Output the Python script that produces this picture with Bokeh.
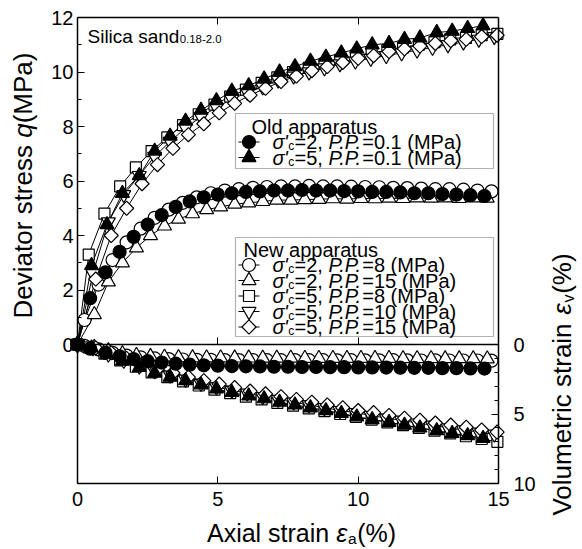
from math import pi
from bokeh.plotting import figure
from bokeh.models import Range1d, LinearAxis, FixedTicker, Label, BoxAnnotation, Grid
from bokeh.embed import file_html
from bokeh.resources import INLINE

# ---------------- data ----------------
# axial strain (%) and deviator stress q (MPa), volumetric strain (%)
# Old apparatus, sigma'c = 2, P.P. = 0.1
x_old2 = [0, 0.45, 1.0, 1.5, 2.0, 2.5, 3.0, 3.5, 4.0, 4.5, 5.0, 5.5, 6.0, 6.5, 7.0, 7.5,
          8.0, 8.5, 9.0, 9.5, 10.0, 10.5, 11.0, 11.5, 12.0, 12.5, 13.0, 13.5, 14.0, 14.5]
q_old2 = [0, 1.7, 2.65, 3.4, 3.95, 4.4, 4.75, 5.05, 5.25, 5.4, 5.5, 5.55, 5.6, 5.62, 5.65, 5.65,
          5.67, 5.65, 5.65, 5.63, 5.62, 5.6, 5.6, 5.58, 5.55, 5.55, 5.52, 5.5, 5.48, 5.45]
ev_old2 = [0, 0.3, 0.6, 0.85, 1.05, 1.2, 1.3, 1.38, 1.45, 1.5, 1.52, 1.55, 1.57, 1.58, 1.6, 1.6,
           1.62, 1.62, 1.63, 1.63, 1.65, 1.65, 1.66, 1.67, 1.68, 1.68, 1.7, 1.7, 1.72, 1.73]

# Old apparatus, sigma'c = 5, P.P. = 0.1
x_old5 = [0, 0.5, 1.05, 1.6, 2.2, 2.75, 3.3, 3.85, 4.4, 4.95, 5.5, 6.1, 6.65, 7.2, 7.75,
          8.3, 8.85, 9.4, 9.95, 10.5, 11.1, 11.65, 12.2, 12.8, 13.35, 13.9, 14.45]
q_old5 = [0, 2.9, 4.4, 5.55, 6.2, 7.1, 7.65, 8.2, 8.6, 8.95, 9.3, 9.5, 9.75, 10.0, 10.2,
          10.4, 10.55, 10.7, 10.85, 11.0, 11.05, 11.2, 11.25, 11.45, 11.5, 11.6, 11.7]
ev_old5 = [0, 0.25, 0.7, 1.2, 1.65, 2.05, 2.35, 2.6, 2.9, 3.2, 3.45, 3.7, 3.9, 4.15, 4.35,
           4.55, 4.75, 4.95, 5.2, 5.4, 5.6, 5.8, 6.0, 6.2, 6.4, 6.55, 6.75]

# New apparatus, sigma'c = 2, P.P. = 8
x_new2_8 = [0, 0.25, 0.75, 1.25, 1.75, 2.25, 2.75, 3.25, 3.75, 4.25, 4.75, 5.25, 5.75, 6.25, 6.75,
            7.25, 7.75, 8.25, 8.75, 9.25, 9.75, 10.25, 10.75, 11.25, 11.75, 12.25, 12.75, 13.25,
            13.75, 14.25, 14.75]
q_new2_8 = [0, 0.9, 2.2, 3.1, 3.75, 4.25, 4.65, 4.95, 5.2, 5.4, 5.55, 5.65, 5.7, 5.75, 5.78,
            5.8, 5.8, 5.82, 5.8, 5.8, 5.79, 5.78, 5.77, 5.75, 5.74, 5.72, 5.7, 5.7, 5.68, 5.65, 5.62]
ev_new2_8 = [0, 0.1, 0.35, 0.6, 0.8, 0.92, 1.0, 1.05, 1.08, 1.1, 1.1, 1.12, 1.12, 1.12, 1.13,
             1.13, 1.12, 1.13, 1.13, 1.14, 1.13, 1.14, 1.14, 1.13, 1.14, 1.15, 1.14, 1.15, 1.15,
             1.15, 1.16]

# New apparatus, sigma'c = 2, P.P. = 15
x_new2_15 = [0, 0.6, 1.1, 1.6, 2.1, 2.6, 3.1, 3.6, 4.1, 4.6, 5.1, 5.6, 6.1, 6.6, 7.1, 7.6,
             8.1, 8.6, 9.1, 9.6, 10.1, 10.6, 11.1, 11.6, 12.1, 12.6, 13.1, 13.6, 14.1, 14.6]
q_new2_15 = [0, 1.1, 2.3, 3.0, 3.55, 4.0, 4.35, 4.6, 4.8, 4.95, 5.05, 5.15, 5.2, 5.25, 5.3,
             5.3, 5.32, 5.33, 5.35, 5.34, 5.36, 5.35, 5.37, 5.36, 5.38, 5.37, 5.38, 5.36, 5.38, 5.37]
ev_new2_15 = [0, 0.2, 0.45, 0.65, 0.78, 0.86, 0.91, 0.94, 0.95, 0.96, 0.96, 0.97, 0.97, 0.98,
              0.98, 0.98, 0.99, 0.99, 0.99, 1.0, 1.0, 1.0, 1.0, 1.01, 1.01, 1.01, 1.02, 1.02,
              1.02, 1.03]

# New apparatus, sigma'c = 5, P.P. = 8
x_new5_8 = [0, 0.4, 0.96, 1.52, 2.08, 2.64, 3.2, 3.76, 4.32, 4.88, 5.44, 6.0, 6.56, 7.12,
            7.68, 8.24, 8.8, 9.36, 9.92, 10.48, 11.04, 11.6, 12.16, 12.72, 13.28, 13.84, 14.4, 14.96]
q_new5_8 = [0, 3.3, 4.8, 5.8, 6.5, 7.1, 7.6, 8.05, 8.45, 8.8, 9.1, 9.35, 9.6, 9.8, 10.0,
            10.15, 10.3, 10.45, 10.6, 10.7, 10.8, 10.9, 11.0, 11.1, 11.2, 11.25, 11.35, 11.4]
ev_new5_8 = [0, 0.2, 0.65, 1.15, 1.6, 2.0, 2.35, 2.65, 2.95, 3.25, 3.5, 3.75, 3.95, 4.2,
             4.4, 4.6, 4.8, 5.0, 5.2, 5.4, 5.6, 5.8, 6.0, 6.2, 6.4, 6.6, 6.8, 7.0]

# New apparatus, sigma'c = 5, P.P. = 10
x_new5_10 = [0, 0.55, 1.1, 1.65, 2.2, 2.75, 3.3, 3.85, 4.4, 4.95, 5.5, 6.05, 6.6, 7.15,
             7.7, 8.25, 8.8, 9.35, 9.9, 10.45, 11.0, 11.55, 12.1, 12.65, 13.2, 13.75, 14.3, 14.85]
q_new5_10 = [0, 2.6, 4.5, 5.5, 6.2, 6.9, 7.45, 7.95, 8.35, 8.7, 9.0, 9.25, 9.45, 9.7,
             9.85, 10.0, 10.15, 10.3, 10.4, 10.5, 10.6, 10.7, 10.8, 10.9, 11.0, 11.1, 11.2, 11.3]
ev_new5_10 = [0, 0.25, 0.7, 1.15, 1.55, 1.9, 2.2, 2.5, 2.8, 3.05, 3.3, 3.5, 3.75, 3.95,
              4.15, 4.35, 4.55, 4.75, 4.9, 5.1, 5.3, 5.45, 5.65, 5.8, 6.0, 6.15, 6.3, 6.45]

# New apparatus, sigma'c = 5, P.P. = 15
x_new5_15 = [0, 0.65, 1.2, 1.75, 2.3, 2.85, 3.4, 3.95, 4.5, 5.05, 5.6, 6.15, 6.7, 7.25,
             7.8, 8.35, 8.9, 9.45, 10.0, 10.55, 11.1, 11.65, 12.2, 12.75, 13.3, 13.85, 14.4, 14.95]
q_new5_15 = [0, 2.4, 4.0, 5.0, 5.9, 6.6, 7.2, 7.7, 8.1, 8.5, 8.85, 9.15, 9.4, 9.65,
             9.85, 10.05, 10.2, 10.35, 10.5, 10.6, 10.75, 10.85, 10.95, 11.05, 11.15, 11.2, 11.3, 11.35]
ev_new5_15 = [0, 0.25, 0.6, 1.0, 1.4, 1.75, 2.05, 2.35, 2.6, 2.85, 3.1, 3.35, 3.55, 3.75,
              3.95, 4.15, 4.35, 4.55, 4.75, 4.9, 5.1, 5.3, 5.45, 5.65, 5.8, 5.95, 6.15, 6.3]

# legend parameters
old_sigma = [2, 5]
old_pp = ["0.1", "0.1"]
new_sigma = [2, 2, 5, 5, 5]
new_pp = ["8", "15", "8", "10", "15"]

# ticks
x_ticks = [0, 5, 10, 15]
x_inner_ticks = [5, 10]
q_ticks = [0, 2, 4, 6, 8, 10, 12]
q_minor = [1, 3, 5, 7, 9, 11]
ev_ticks = [0, 5, 10]
ev_minor = [1, 2, 3, 4, 6, 7, 8, 9]
X_MIN, X_MAX = 0, 15
Q_MAX = 12.0
EV_MAX = 10.0

# ---------------- layout (pixels of the 582x549 canvas) ----------------
FONT = "Liberation Sans"
W, H = 582, 549
FL, FR, FT, FB = 77, 498, 17, 483
ZERO_PX = 344
x_per_px = (X_MAX - X_MIN) / (FR - FL)
q_per_px = Q_MAX / (ZERO_PX - FT)
ev_per_px = EV_MAX / (FB - ZERO_PX)
Q_BOT = -(FB - ZERO_PX) * q_per_px          # q value at frame bottom
EV_TOP = -(ZERO_PX - FT) * ev_per_px        # ev value at frame top


def dx(px):
    return X_MIN + (px - FL) * x_per_px


def dy(py):
    return (ZERO_PX - py) * q_per_px


def dev(py):
    return (py - ZERO_PX) * ev_per_px


# the plotting frame covers the whole canvas; axes are pinned with fixed_location
p = figure(width=W, height=H, x_range=Range1d(dx(0), dx(W)), y_range=Range1d(dy(H), dy(0)),
           output_backend="svg", toolbar_location=None,
           x_axis_location=None, y_axis_location=None,
           min_border_left=0, min_border_right=0, min_border_top=0, min_border_bottom=0)
p.center = [r for r in p.center if not isinstance(r, Grid)]
p.extra_y_ranges = {"ev": Range1d(start=dev(H), end=dev(0))}
p.outline_line_color = None
p.background_fill_color = "white"
p.border_fill_color = "white"


def style_axis(ax, labels=True, lw=1.5):
    ax.axis_line_color = "black"
    ax.axis_line_width = lw
    ax.major_tick_in = 7
    ax.major_tick_out = 0
    ax.minor_tick_in = 4
    ax.minor_tick_out = 0
    ax.major_tick_line_color = "black"
    ax.minor_tick_line_color = "black"
    ax.major_label_text_font = FONT
    ax.major_label_text_font_size = "20px"
    ax.major_label_text_color = "black" if labels else None


# bottom axis (frame bottom)
xa = LinearAxis(ticker=FixedTicker(ticks=x_ticks, minor_ticks=[]), fixed_location=Q_BOT,
                bounds=(X_MIN, X_MAX))
style_axis(xa)
xa.major_label_standoff = 8
p.add_layout(xa, "below")

# top axis (frame top), ticks only
ta = LinearAxis(ticker=FixedTicker(ticks=x_inner_ticks, minor_ticks=[]), fixed_location=Q_MAX,
                bounds=(X_MIN, X_MAX))
style_axis(ta, labels=False)
p.add_layout(ta, "above")

# zero line of the q plot, ticks only
za = LinearAxis(ticker=FixedTicker(ticks=x_inner_ticks, minor_ticks=[]), fixed_location=0,
                bounds=(X_MIN, X_MAX))
style_axis(za, labels=False, lw=1.3)
p.add_layout(za, "below")

# left axis: deviator stress
ya = LinearAxis(ticker=FixedTicker(ticks=q_ticks, minor_ticks=q_minor), fixed_location=X_MIN,
                bounds=(Q_BOT, Q_MAX))
style_axis(ya)
ya.major_label_standoff = 4
p.add_layout(ya, "left")

# right axis: volumetric strain (downward positive)
ra = LinearAxis(y_range_name="ev", ticker=FixedTicker(ticks=ev_ticks, minor_ticks=ev_minor),
                fixed_location=X_MAX, bounds=(EV_TOP, EV_MAX))
style_axis(ra)
ra.major_label_standoff = 15
p.add_layout(ra, "right")

# ---------------- series ----------------
series = [
    (x_new2_8, q_new2_8, ev_new2_8, "circle", 13, 0.0, "white"),
    (x_new2_15, q_new2_15, ev_new2_15, "triangle", 14, 0.0, "white"),
    (x_new5_8, q_new5_8, ev_new5_8, "square", 11, 0.0, "white"),
    (x_new5_10, q_new5_10, ev_new5_10, "inverted_triangle", 14, 0.0, "white"),
    (x_new5_15, q_new5_15, ev_new5_15, "square", 10, pi / 4, "white"),
    (x_old2, q_old2, ev_old2, "circle", 13, 0.0, "black"),
    (x_old5, q_old5, ev_old5, "triangle", 14, 0.0, "black"),
]

for xs, qs, evs, mk, sz, ang, fc in series:
    p.line(xs, qs, line_color="black", line_width=1)
    p.line(xs, evs, y_range_name="ev", line_color="black", line_width=1)

for xs, qs, evs, mk, sz, ang, fc in series:
    p.scatter(xs, qs, marker=mk, size=sz, angle=ang, fill_color=fc, line_color="black",
              line_width=1.2)
    p.scatter(xs, evs, y_range_name="ev", marker=mk, size=sz, angle=ang, fill_color=fc,
              line_color="black", line_width=1.2)

# ---------------- text helpers ----------------
CW = {' ': 278, '%': 889, "'": 191, '(': 333, ')': 333, ',': 278, '-': 333, '.': 278,
      '=': 584, 'A': 667, 'D': 722, 'M': 833, 'N': 722, 'O': 778, 'P': 667, 'S': 667,
      'V': 667, 'a': 556, 'c': 500, 'd': 556, 'e': 556, 'i': 222, 'l': 222, 'm': 833,
      'n': 556, 'o': 556, 'p': 556, 'q': 556, 'r': 333, 's': 500, 't': 278, 'u': 556,
      'v': 500, 'w': 722, 'x': 500, '\u03c3': 571, '\u03b5': 446}
CAP_HALF = 0.36


def tw(s, size):
    return sum(CW.get(ch, 556) for ch in s) * size / 1000.0


def rich(px, py, pieces, size, angle=0.0):
    """px, py: start of the text run and vertical centre of its capitals (canvas pixels)."""
    pos = 0.0
    for text, italic, scale, drop, kern in pieces:
        fs = size * scale
        off = CAP_HALF * (size - fs) + drop * size
        if angle == 0:
            sx, sy = px + pos, py + off
        else:
            sx, sy = px + off, py - pos
        p.add_layout(Label(x=dx(sx), y=dy(sy), text=text, text_font=FONT,
                           text_font_size=f"{fs:.1f}px",
                           text_font_style="italic" if italic else "normal",
                           text_baseline="middle", text_align="left", angle=angle,
                           text_color="black"))
        pos += tw(text, fs) + kern * size


def rich_len(pieces, size):
    return sum(tw(t, size * sc) + k * size for t, _, sc, _, k in pieces)


# Silica sand label
rich(87, 36, [("Silica sand", False, 1, 0, 0.02), ("0.18-2.0", False, 0.6, 0, 0)], 19)

# axis titles
TS = 26
left_t = [("Deviator stress ", False, 1, 0, 0), ("q", True, 1, 0, 0), ("(MPa)", False, 1, 0, 0)]
L = rich_len(left_t, TS)
rich(22, 185 + L / 2, left_t, TS, angle=pi / 2)

bot_t = [("Axial strain ", False, 1, 0, 0), ("\u03b5", True, 1, 0, 0.03),
         ("a", False, 0.62, 0.1, 0.02), ("(%)", False, 1, 0, 0)]
L = rich_len(bot_t, 25)
rich(301 - L / 2, 532, bot_t, 25)

right_t = [("Volumetric strain ", False, 1, 0, 0), ("\u03b5", True, 1, 0, 0.03),
           ("v", False, 0.62, 0.1, 0.02), ("(%)", False, 1, 0, 0)]
L = rich_len(right_t, TS)
rich(561, 384 + L / 2, right_t, TS, angle=pi / 2)

# ---------------- legends ----------------
LS = 20


def legend_box(top, bottom, title, rows):
    p.add_layout(BoxAnnotation(left=dx(235), right=dx(493), top=dy(top), bottom=dy(bottom),
                               fill_color="white", fill_alpha=1.0, line_color="black",
                               line_width=1.2, level="underlay"))
    rich(title[2], title[1], [(title[0], False, 1, 0, 0)], LS)
    for (cy, mk, sz, ang, fc, sig, pp) in rows:
        p.segment(x0=[dx(238)], y0=[dy(cy)], x1=[dx(259)], y1=[dy(cy)], line_color="black",
                  line_width=1)
        p.scatter([dx(248.5)], [dy(cy)], marker=mk, size=sz, angle=ang, fill_color=fc,
                  line_color="black", line_width=1.2)
        rich(272, cy, [("\u03c3", True, 1, 0, 0), ("'", True, 1, 0, 0.02),
                       ("c", False, 0.6, 0.06, 0.02),
                       (f"={sig}, ", False, 1, 0, 0), ("P.P.", True, 1, 0, -0.2),
                       (f"={pp} (MPa)", False, 1, 0, 0)], LS)


old_rows = [(141.5, "circle", 13, 0.0, "black", old_sigma[0], old_pp[0]),
            (157.0, "triangle", 14, 0.0, "black", old_sigma[1], old_pp[1])]
legend_box(113, 168, ("Old apparatus", 126, 251), old_rows)

new_marks = [("circle", 13, 0.0), ("triangle", 14, 0.0), ("square", 11, 0.0),
             ("inverted_triangle", 14, 0.0), ("square", 10, pi / 4)]
new_cy = [264.5, 280.0, 295.5, 311.0, 326.5]
new_rows = [(new_cy[i], new_marks[i][0], new_marks[i][1], new_marks[i][2], "white",
             new_sigma[i], new_pp[i]) for i in range(5)]
legend_box(237, 336, ("New apparatus", 249, 243), new_rows)

open("out.html", "w").write(file_html(p, INLINE))
